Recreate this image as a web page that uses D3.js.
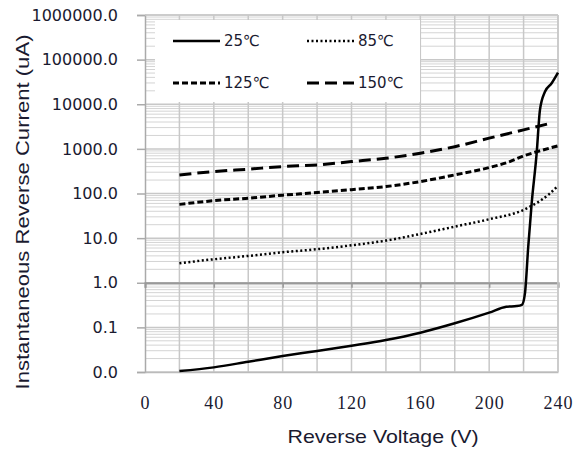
<!DOCTYPE html>
<html>
<head>
<meta charset="utf-8">
<script src="https://cdn.jsdelivr.net/npm/d3@7"></script>
<style>
  body { margin: 0; background: #fff; }
  svg { display: block; }
</style>
</head>
<body>
<div id="chart"></div>
<script>
// data (voltage in V, current in uA)
const v25 = [20, 40, 60, 80, 100, 120, 140, 160, 180, 200, 210, 216, 219, 220.8, 222.7, 224.7, 227.6, 229.5, 232.4, 236.3, 240]
const i25 = [0.0105, 0.0127, 0.017, 0.0228, 0.0296, 0.0389, 0.0522, 0.0761, 0.1235, 0.214, 0.29, 0.30, 0.32, 0.58, 6.4, 60, 800, 7400, 19000, 29500, 51000]

const v85 = [20, 40, 60, 80, 100, 120, 140, 160, 180, 200, 220, 225, 230, 235, 240]
const i85 = [2.74, 3.36, 3.99, 4.83, 5.64, 6.9, 8.8, 12.4, 18.1, 26.5, 42.9, 54, 70, 98, 150]

const v125 = [20, 40, 60, 80, 100, 120, 140, 160, 180, 200, 212, 220, 228, 240]
const i125 = [57, 69, 78.5, 91.6, 105, 122, 143, 185, 261, 381, 519, 696, 870, 1167]

const v150 = [20, 40, 60, 80, 100, 120, 140, 160, 180, 200, 220, 236]
const i150 = [261, 310, 351, 401, 437, 519, 617, 800, 1120, 1740, 2670, 3770]

const seriesNames = ['25℃', '85℃', '125℃', '150℃']
const xTicks = [0, 40, 80, 120, 160, 200, 240]
const yTicks = [0.01, 0.1, 1, 10, 100, 1000, 10000, 100000, 1000000]

const W = 581, H = 452
const plot = { left: 145, right: 558, top: 15, bottom: 372 }

const svg = d3.select('#chart').append('svg')
  .attr('width', W).attr('height', H)

const x = d3.scaleLinear().domain([0, 240]).range([plot.left, plot.right])
const y = d3.scaleLog().domain([0.01, 1000000]).range([plot.bottom, plot.top])

// grid: minor log lines
const minor = []
for (let k = -2; k < 6; k++) {
  for (let m = 2; m <= 9; m++) minor.push(m * Math.pow(10, k))
}
svg.append('g').selectAll('line').data(minor).join('line')
  .attr('x1', plot.left).attr('x2', plot.right)
  .attr('y1', d => y(d)).attr('y2', d => y(d))
  .attr('stroke', '#d4d4d4').attr('stroke-width', 1)

// vertical grid every 20V
svg.append('g').selectAll('line').data(d3.range(20, 241, 20)).join('line')
  .attr('x1', d => x(d)).attr('x2', d => x(d))
  .attr('y1', plot.top).attr('y2', plot.bottom)
  .attr('stroke', '#c8c8c8').attr('stroke-width', 1.5)

// major horizontal grid
svg.append('g').selectAll('line').data(yTicks).join('line')
  .attr('x1', plot.left).attr('x2', plot.right)
  .attr('y1', d => y(d)).attr('y2', d => y(d))
  .attr('stroke', '#c8c8c8').attr('stroke-width', 1.5)

// y axis
const yAxis = svg.append('g')
  .attr('transform', `translate(${plot.left},0)`)
  .call(d3.axisLeft(y).tickValues(yTicks).tickFormat(d3.format('.1f')).tickSize(8).tickPadding(19))
yAxis.select('.domain').attr('stroke', '#aaa').attr('stroke-width', 1.5)
yAxis.selectAll('.tick line').attr('stroke', '#aaa').attr('stroke-width', 1.5)
yAxis.selectAll('.tick text')
  .style('font-family', '"DejaVu Sans", sans-serif').style('font-size', '16px').attr('fill', '#1a1a30')

// x axis crosses at 1.0
const xAxis = svg.append('g')
  .attr('transform', `translate(0,${y(1)})`)
  .call(d3.axisBottom(x).tickValues(xTicks).tickSize(5).tickFormat(''))
xAxis.select('.domain').attr('stroke', '#999').attr('stroke-width', 2)
xAxis.selectAll('.tick line').attr('stroke', '#999').attr('stroke-width', 1.5)

// x labels at bottom
const xLab = svg.append('g')
  .attr('transform', `translate(0,${plot.bottom})`)
  .call(d3.axisBottom(x).tickValues(xTicks).tickSize(0).tickPadding(24))
xLab.select('.domain').attr('stroke', '#bbb').attr('stroke-width', 1.5)
xLab.selectAll('.tick text')
  .style('font-family', '"Liberation Serif", serif').style('font-size', '18px')
  .style('letter-spacing', '1px').attr('fill', '#1a1a30')

// plot frame top / right
svg.append('line').attr('x1', plot.left).attr('x2', plot.right).attr('y1', plot.top).attr('y2', plot.top)
  .attr('stroke', '#c8c8c8').attr('stroke-width', 1.5)
svg.append('line').attr('x1', plot.right).attr('x2', plot.right).attr('y1', plot.top).attr('y2', plot.bottom)
  .attr('stroke', '#c8c8c8').attr('stroke-width', 1.5)

// series
const styles = [
  { dash: null, width: 2.5 },
  { dash: '2,2.5', width: 2.5 },
  { dash: '6,3', width: 3 },
  { dash: '12,6', width: 3 }
]
const series = [
  d3.zip(v25, i25), d3.zip(v85, i85), d3.zip(v125, i125), d3.zip(v150, i150)
]
const line = d3.line().x(d => x(d[0])).y(d => y(d[1])).curve(d3.curveMonotoneX)

svg.append('g').selectAll('path').data(series).join('path')
  .attr('d', line)
  .attr('fill', 'none')
  .attr('stroke', '#000')
  .attr('stroke-width', (d, i) => styles[i].width)
  .attr('stroke-dasharray', (d, i) => styles[i].dash)

// legend
const legend = svg.append('g')
legend.append('rect').attr('x', 155).attr('y', 20).attr('width', 265).attr('height', 82).attr('fill', '#fff')
const legPos = [[173, 41], [307, 41], [173, 83], [307, 83]]
seriesNames.forEach((name, i) => {
  const [lx, ly] = legPos[i]
  legend.append('line')
    .attr('x1', lx).attr('x2', lx + 47).attr('y1', ly).attr('y2', ly)
    .attr('stroke', '#000')
    .attr('stroke-width', styles[i].width)
    .attr('stroke-dasharray', styles[i].dash)
  legend.append('text')
    .attr('x', lx + 51).attr('y', ly).attr('dy', '0.35em')
    .style('font-family', '"DejaVu Sans", sans-serif').style('font-size', '15px')
    .attr('fill', '#1a1a30')
    .text(name)
})

// axis titles
svg.append('text')
  .attr('x', 383).attr('y', 443)
  .attr('text-anchor', 'middle')
  .attr('textLength', 191).attr('lengthAdjust', 'spacingAndGlyphs')
  .style('font-family', '"Liberation Sans", sans-serif').style('font-size', '19px')
  .attr('fill', '#1a1a30')
  .text('Reverse Voltage (V)')

svg.append('text')
  .attr('transform', 'translate(29,212) rotate(-90)')
  .attr('text-anchor', 'middle')
  .attr('textLength', 355).attr('lengthAdjust', 'spacingAndGlyphs')
  .style('font-family', '"Liberation Sans", sans-serif').style('font-size', '19px')
  .attr('fill', '#1a1a30')
  .text('Instantaneous Reverse Current (uA)')
</script>
</body>
</html>
